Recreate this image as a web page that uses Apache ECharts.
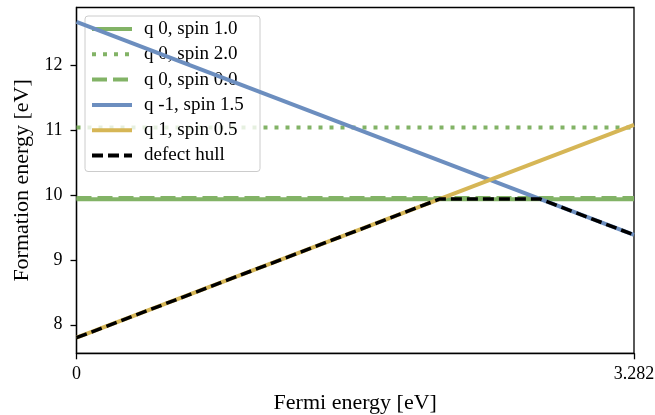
<!DOCTYPE html>
<html>
<head>
<meta charset="utf-8">
<script src="https://cdn.jsdelivr.net/npm/echarts@6/dist/echarts.min.js"></script>
<style>html,body{margin:0;padding:0;background:#fff;}#c{width:655px;height:415px;}</style>
</head>
<body>
<div id="c"></div>
<script>
// Fermi energy range (eV)
const fermiX = [0, 3.282];
// formation energies at the two ends of the Fermi range
const q0spin10 = [9.935, 9.935];
const q0spin20 = [11.04, 11.04];
const q0spin00 = [9.955, 9.955];
const qm1spin15 = [12.667, 9.385];
const qp1spin05 = [7.80, 11.08];
// defect hull vertices
const hullX = [0, 2.14, 2.727, 3.282];
const hullY = [7.80, 9.94, 9.94, 9.385];
// tick labels
const xTicks = [0, 3.282];
const yTicks = [8, 9, 10, 11, 12];
const seriesNames = ['q 0, spin 1.0', 'q 0, spin 2.0', 'q 0, spin 0.0', 'q -1, spin 1.5', 'q 1, spin 0.5', 'defect hull'];

const pairs = (xs, ys) => xs.map((x, i) => [x, ys[i]]);
const FONT = '"Liberation Serif", "DejaVu Serif", serif';
const GREEN = '#82b366', BLUE = '#6c8ebf', YELLOW = '#d6b656';

function line(name, ys, color, type, z, width) {
  return {
    name: name, type: 'line', data: pairs(fermiX, ys), symbol: 'none', z: z,
    lineStyle: { color: color, width: width || 4, type: type, cap: 'butt' },
    itemStyle: { color: color }
  };
}

const chart = echarts.init(document.getElementById('c'), null, { renderer: 'canvas' });
chart.setOption({
  animation: false,
  backgroundColor: '#fff',
  textStyle: { fontFamily: FONT },
  grid: { left: 76.5, right: 21, top: 7.5, bottom: 61.7, show: true, borderColor: '#000', borderWidth: 1.3,
    backgroundColor: 'transparent', containLabel: false, outerBoundsMode: 'none' },
  xAxis: {
    type: 'value', min: 0, max: 3.282,
    name: 'Fermi energy [eV]', nameLocation: 'middle', nameGap: 39,
    nameTextStyle: { fontFamily: FONT, fontSize: 22, color: '#000' },
    axisLine: { show: true, lineStyle: { color: '#000', width: 1.3 } },
    axisTick: { show: true, length: 6, lineStyle: { color: '#000', width: 1.3 }, customValues: xTicks },
    axisLabel: { fontFamily: FONT, fontSize: 18, color: '#000', margin: 12, customValues: xTicks,
      formatter: v => (v === 0 ? '0' : String(v)) },
    splitLine: { show: false }
  },
  yAxis: {
    type: 'value', min: 7.56, max: 12.89,
    name: 'Formation energy [eV]', nameLocation: 'middle', nameGap: 43,
    nameTextStyle: { fontFamily: FONT, fontSize: 22, color: '#000' },
    axisLine: { show: true, lineStyle: { color: '#000', width: 1.3 } },
    axisTick: { show: true, length: 6, lineStyle: { color: '#000', width: 1.3 }, customValues: yTicks },
    axisLabel: { fontFamily: FONT, fontSize: 18, color: '#000', margin: 14, customValues: yTicks },
    splitLine: { show: false }
  },
  legend: {
    orient: 'vertical', left: 85, top: 16,
    data: seriesNames,
    itemWidth: 40, itemHeight: 14, itemGap: 5.3,
    padding: [3, 12, 6, 5],
    backgroundColor: 'rgba(255,255,255,0.8)',
    borderColor: '#cccccc', borderWidth: 1, borderRadius: 3,
    itemStyle: { opacity: 0, color: 'rgba(0,0,0,0)', borderWidth: 0 },
    lineStyle: { width: 4 },
    textStyle: { fontFamily: FONT, fontSize: 19, color: '#000', lineHeight: 20, width: 104, padding: [0, 0, 0, 7] }
  },
  series: [
    line(seriesNames[0], q0spin10, GREEN, 'solid', 2),
    line(seriesNames[1], q0spin20, GREEN, [4, 7], 3),
    line(seriesNames[2], q0spin00, GREEN, [15, 6], 4),
    line(seriesNames[3], qm1spin15, BLUE, 'solid', 5),
    line(seriesNames[4], qp1spin05, YELLOW, 'solid', 6),
    {
      name: seriesNames[5], type: 'line', data: pairs(hullX, hullY), symbol: 'none', z: 7,
      lineStyle: { color: '#000', width: 3.5, type: [11, 5], cap: 'butt' },
      itemStyle: { color: '#000' }
    }
  ]
});
</script>
</body>
</html>
